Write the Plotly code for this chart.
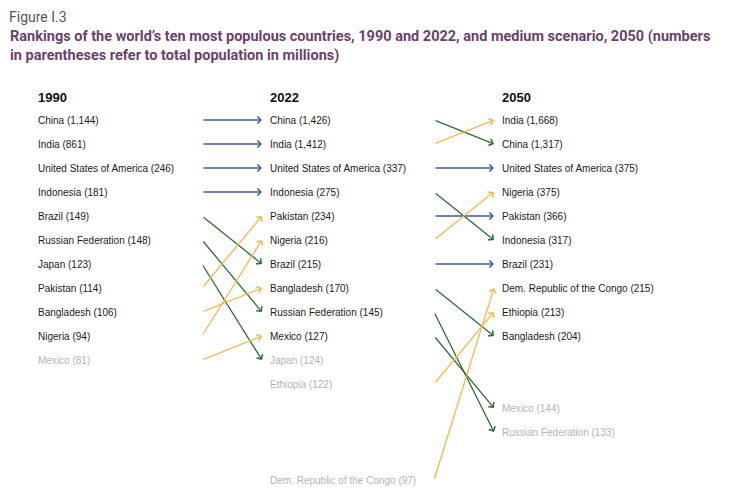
import plotly.graph_objects as go

# ---------------- data ----------------
years = ["1990", "2022", "2050"]

countries_1990 = ["China", "India", "United States of America", "Indonesia", "Brazil",
                  "Russian Federation", "Japan", "Pakistan", "Bangladesh", "Nigeria", "Mexico"]
pop_1990 = ["1,144", "861", "246", "181", "149", "148", "123", "114", "106", "94", "81"]
rank_1990 = [1, 2, 3, 4, 5, 6, 7, 8, 9, 10, 11]

countries_2022 = ["China", "India", "United States of America", "Indonesia", "Pakistan",
                  "Nigeria", "Brazil", "Bangladesh", "Russian Federation", "Mexico",
                  "Japan", "Ethiopia", "Dem. Republic of the Congo"]
pop_2022 = ["1,426", "1,412", "337", "275", "234", "216", "215", "170", "145", "127",
            "124", "122", "97"]
rank_2022 = [1, 2, 3, 4, 5, 6, 7, 8, 9, 10, 11, 12, 16]

countries_2050 = ["India", "China", "United States of America", "Nigeria", "Pakistan",
                  "Indonesia", "Brazil", "Dem. Republic of the Congo", "Ethiopia",
                  "Bangladesh", "Mexico", "Russian Federation"]
pop_2050 = ["1,668", "1,317", "375", "375", "366", "317", "231", "215", "213", "204",
            "144", "133"]
rank_2050 = [1, 2, 3, 4, 5, 6, 7, 8, 9, 10, 13, 14]

top_n = 10

# ---------------- styling ----------------
C_UP = "#f2b84b"
C_DOWN = "#2f6b35"
C_SAME = "#3f5a8f"
C_TEXT = "#1a1a1a"
C_OUT = "#b3b3b3"

PAGE_OFF = 8          # default body margin of the html page
COL_STEP_PX = 232
ROW_STEP_PX = 24
W, H = 733, 498
X0_PX = 38 - PAGE_OFF     # first column left edge
Y0_PX = 120 - PAGE_OFF    # first row center
LABEL_PAD = 2

x_lo = -X0_PX / COL_STEP_PX
x_hi = (W - X0_PX) / COL_STEP_PX
y_top = 1 - Y0_PX / ROW_STEP_PX
y_bot = 1 + (H - Y0_PX) / ROW_STEP_PX

tail_off = (202 - 38) / COL_STEP_PX - 1
head_off = -8 / COL_STEP_PX
lab_off = -LABEL_PAD / COL_STEP_PX

columns = [
    (countries_1990, pop_1990, rank_1990),
    (countries_2022, pop_2022, rank_2022),
    (countries_2050, pop_2050, rank_2050),
]

annotations = []

# column headers and labels
for ci, (year, (names, pops, ranks)) in enumerate(zip(years, columns)):
    annotations.append(dict(
        x=ci + lab_off, y=0.05, xref="x", yref="y", text="<b>%s</b>" % year, showarrow=False,
        xanchor="left", yanchor="middle",
        font=dict(family="Liberation Sans, Arial, sans-serif", size=13, color="#111111")))
    for n, p, r in zip(names, pops, ranks):
        annotations.append(dict(
            x=ci + lab_off, y=r, xref="x", yref="y", text="%s (%s)" % (n, p), showarrow=False,
            xanchor="left", yanchor="middle",
            font=dict(family="Liberation Sans, Arial, sans-serif", size=10,
                      color=C_TEXT if r <= top_n else C_OUT)))

# arrows between consecutive columns
for ci in range(len(columns) - 1):
    names_a, _, ranks_a = columns[ci]
    names_b, _, ranks_b = columns[ci + 1]
    pos_b = dict(zip(names_b, ranks_b))
    for n, ra in zip(names_a, ranks_a):
        if n not in pos_b:
            continue
        rb = pos_b[n]
        if ra > top_n and rb > top_n:
            continue
        color = C_SAME if rb == ra else (C_UP if rb < ra else C_DOWN)
        annotations.append(dict(
            x=ci + 1 + head_off, y=rb, ax=ci + 1 + tail_off, ay=ra,
            xref="x", yref="y", axref="x", ayref="y",
            text="", showarrow=True, arrowhead=4, arrowsize=1.05, arrowwidth=1.3,
            arrowcolor=color, standoff=0, startstandoff=0))

# figure caption and title
annotations.append(dict(
    x=(10 - PAGE_OFF - 2) / W, y=1, xref="paper", yref="paper",
    text="Figure I.3", borderpad=0,
    showarrow=False, xanchor="left", yanchor="top",
    font=dict(family="Roboto, Open Sans, sans-serif", size=14, color="#555555")))
annotations.append(dict(
    x=(10 - PAGE_OFF - 2) / W, y=1 - (26 - PAGE_OFF) / H, xref="paper", yref="paper",
    text="<b>Rankings of the world’s ten most populous countries, 1990 and 2022, and medium scenario, 2050 (numbers<br>in parentheses refer to total population in millions)</b>",
    showarrow=False, xanchor="left", yanchor="top", align="left",
    font=dict(family="Roboto, Open Sans, sans-serif", size=14.5, color="#6b3f6e")))

fig = go.Figure()
fig.add_trace(go.Scatter(x=[0], y=[1], mode="markers", marker=dict(opacity=0),
                         hoverinfo="skip", showlegend=False))
fig.update_layout(
    width=W, height=H,
    margin=dict(l=0, r=0, t=0, b=0),
    paper_bgcolor="white", plot_bgcolor="white",
    xaxis=dict(range=[x_lo, x_hi], visible=False, fixedrange=True),
    yaxis=dict(range=[y_bot, y_top], visible=False, fixedrange=True),
    annotations=annotations,
    showlegend=False,
)
fig.write_html("out.html")
